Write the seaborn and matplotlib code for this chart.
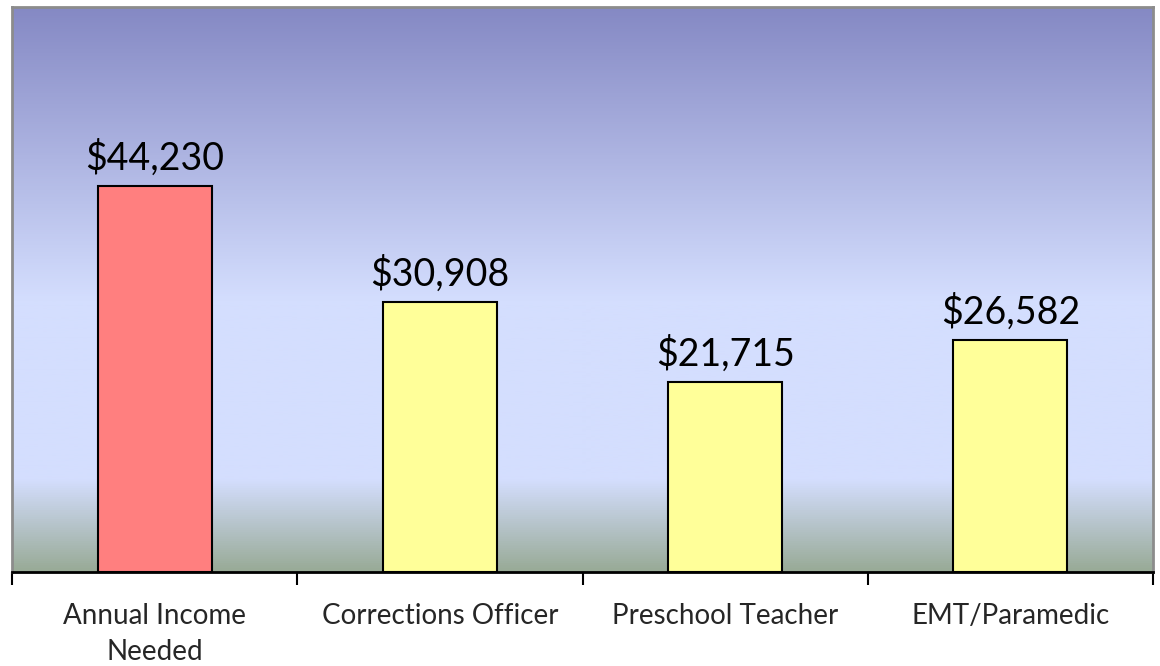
import numpy as np
import pandas as pd
import matplotlib
matplotlib.use("Agg")
import matplotlib.pyplot as plt
from matplotlib.colors import LinearSegmentedColormap
import seaborn as sns

categories = ["Annual Income\nNeeded", "Corrections Officer", "Preschool Teacher", "EMT/Paramedic"]
values = [44230, 30908, 21715, 26582]
bar_colors = ["#FF7F7F", "#FFFF99", "#FFFF99", "#FFFF99"]

sns.set_theme(style="white")
plt.rcParams['font.family'] = ['Lato', 'DejaVu Sans']

df = pd.DataFrame({"category": categories, "value": values})

fig = plt.figure(figsize=(11.6, 6.66), dpi=100)
W, H = 1160, 666
ax = fig.add_axes([12 / W, 1 - 572 / H, (1153 - 12) / W, (572 - 7) / H])

# background gradient (in axes coordinates)
grad_cmap = LinearSegmentedColormap.from_list(
    "bg",
    [(0.0, "#98AA96"), (92 / 565, "#D4DEFE"), (272 / 565, "#D4DEFE"), (1.0, "#8589C4")],
)
grad = np.linspace(0, 1, 512).reshape(-1, 1)
ax.imshow(grad, aspect="auto", cmap=grad_cmap, origin="lower",
          extent=[0, 1, 0, 1], transform=ax.transAxes, zorder=0)

sns.barplot(data=df, x="category", y="value", hue="category", palette=bar_colors,
            order=categories, hue_order=categories, legend=False, width=0.40,
            edgecolor="black", linewidth=1.5, saturation=1, ax=ax, zorder=2)

ax.set_xlim(-0.5, len(categories) - 0.5)
ax.set_ylim(0, 64740)

for cont in ax.containers:
    ax.bar_label(cont, labels=[f"${v:,.0f}" for v in cont.datavalues],
                 padding=7, fontsize=27, color="black")

ax.set_xlabel("")
ax.set_ylabel("")
ax.set_yticks([])

# tick marks at category boundaries, labels centered
ax.set_xticks(np.arange(len(categories)))
ax.set_xticklabels(categories, fontsize=20, linespacing=1.5)
ax.set_xticks(np.arange(-0.5, len(categories)), minor=True)
ax.tick_params(axis="x", which="major", length=0, pad=22)
ax.tick_params(axis="x", which="minor", length=9, width=1.5, color="black", direction="out", bottom=True)

for side in ["left", "top", "right"]:
    ax.spines[side].set_color("#8C8C8C")
    ax.spines[side].set_linewidth(2)
ax.spines["bottom"].set_color("black")
ax.spines["bottom"].set_linewidth(2)

fig.savefig("out.png", dpi=100, facecolor="white")
